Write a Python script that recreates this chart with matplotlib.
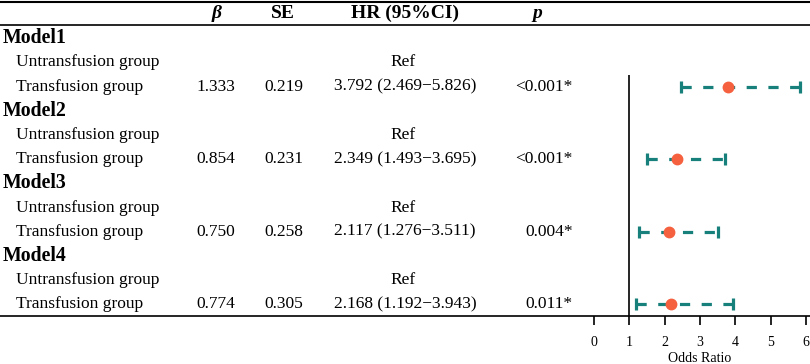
import numpy as np
import matplotlib.pyplot as plt

plt.rcParams['font.family'] = ['Liberation Serif', 'DejaVu Serif']

# data
models = ['Model1', 'Model2', 'Model3', 'Model4']
ref_group = 'Untransfusion group'
cmp_group = 'Transfusion group'
beta = ['1.333', '0.854', '0.750', '0.774']
se = ['0.219', '0.231', '0.258', '0.305']
hr = [3.792, 2.349, 2.117, 2.168]
ci_low = [2.469, 1.493, 1.276, 1.192]
ci_high = [5.826, 3.695, 3.511, 3.943]
pvals = ['<0.001*', '<0.001*', '0.004*', '0.011*']
xticks = [0, 1, 2, 3, 4, 5, 6]

W, H = 810, 364
fig = plt.figure(figsize=(W / 100, H / 100), dpi=100)
ax_bottom_px = 315.5
ax = fig.add_axes([0, 1 - ax_bottom_px / H, 1, ax_bottom_px / H])

# row k sits at pixel 14 + 24.2*k, x value v sits at pixel 594 + 35.33*v
row0, row_h = 14, 24.2
x0_px, unit_px = 594, 35.33
ax.set_ylim((ax_bottom_px - row0) / row_h, -row0 / row_h)
ax.set_xlim(-x0_px / unit_px, (W - x0_px) / unit_px)

def row_of(px):
    return (px - row0) / row_h

tr = ax.get_yaxis_transform()
fs = 12.5
hfs = 14

# header
ax.text(217 / W, row_of(13), '\u03b2', transform=tr, ha='center', va='center',
        fontsize=hfs, fontweight='bold', fontstyle='italic')
ax.text(283 / W, row_of(13), 'SE', transform=tr, ha='center', va='center',
        fontsize=hfs, fontweight='bold')
ax.text(405 / W, row_of(13), 'HR (95%CI)', transform=tr, ha='center', va='center',
        fontsize=hfs, fontweight='bold')
ax.text(537 / W, row_of(13), 'p', transform=tr, ha='center', va='center',
        fontsize=hfs, fontweight='bold', fontstyle='italic')

# table rows
rows_cmp = []
for i, m in enumerate(models):
    r = 1 + 3 * i
    ax.text(3 / W, r, m, transform=tr, ha='left', va='center',
            fontsize=14.3, fontweight='bold')
    ax.text(16 / W, r + 1, ref_group, transform=tr, ha='left', va='center', fontsize=fs)
    ax.text(403 / W, r + 1, 'Ref', transform=tr, ha='center', va='center', fontsize=fs)
    ax.text(16 / W, r + 2, cmp_group, transform=tr, ha='left', va='center', fontsize=fs)
    ax.text(216 / W, r + 2, beta[i], transform=tr, ha='center', va='center', fontsize=fs)
    ax.text(284 / W, r + 2, se[i], transform=tr, ha='center', va='center', fontsize=fs)
    ax.text(405 / W, r + 2, f'{hr[i]:.3f} ({ci_low[i]:.3f}\u2212{ci_high[i]:.3f})',
            transform=tr, ha='center', va='center', fontsize=fs)
    ax.text(573 / W, r + 2, pvals[i], transform=tr, ha='right', va='center', fontsize=fs)
    rows_cmp.append(r + 2)

# forest marks
hr = np.array(hr)
lo = np.array(ci_low)
hi = np.array(ci_high)
teal = '#17807b'
eb = ax.errorbar(hr, rows_cmp, xerr=[hr - lo, hi - hr], fmt='none',
                 ecolor=teal, elinewidth=2.3, capsize=4.5, capthick=2.3, zorder=2)
eb[2][0].set_linestyle((0, (3.2, 3.6)))
ax.plot(hr, rows_cmp, 'o', color='#f5603f', markersize=7.5, zorder=3)

# reference line
ax.vlines(1, 2.5, ax.get_ylim()[0], color='black', lw=1.2, zorder=1)

# rules
ax.axhline(row_of(1.7), color='black', lw=1.5, clip_on=False)
ax.axhline(row_of(25), color='black', lw=1.2, clip_on=False)

for s in ['top', 'left', 'right']:
    ax.spines[s].set_visible(False)
ax.spines['bottom'].set_linewidth(1.2)
ax.set_yticks([])
ax.set_xticks(xticks)
ax.tick_params(axis='x', direction='out', length=6.6, width=1.2, pad=8.5, labelsize=10)
ax.text(3, -(358 - ax_bottom_px) / ax_bottom_px, 'Odds Ratio', transform=ax.get_xaxis_transform(),
        ha='center', va='center', fontsize=10)

fig.savefig('out.png', dpi=100)
